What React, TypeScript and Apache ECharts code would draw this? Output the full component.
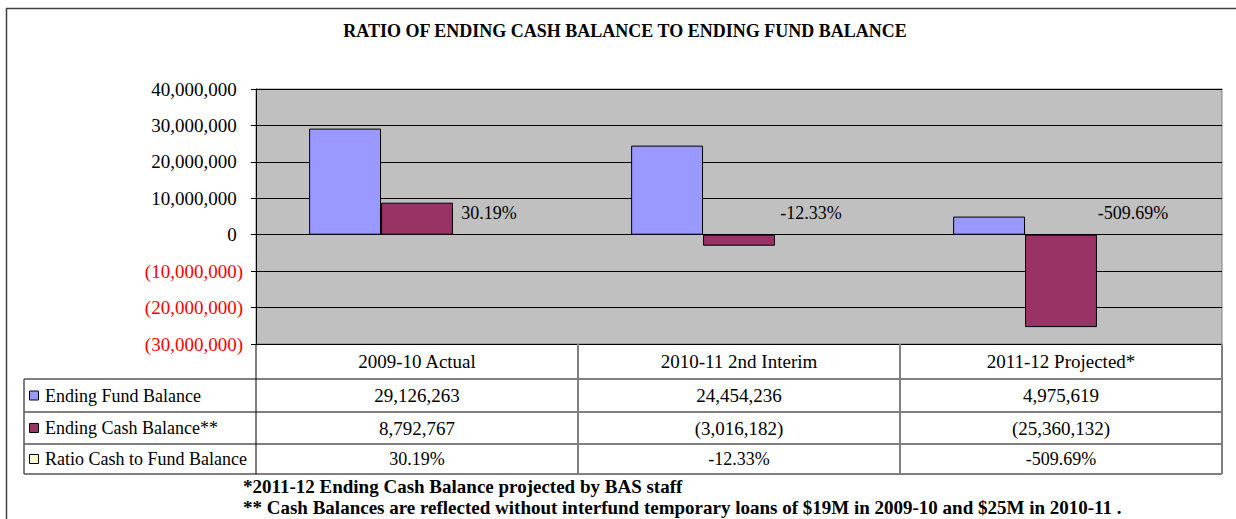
import React, { useEffect, useRef } from "react";
import * as echarts from "echarts";

const categories = ["2009-10 Actual", "2010-11 2nd Interim", "2011-12 Projected*"];
const seriesNames = ["Ending Fund Balance", "Ending Cash Balance**", "Ratio Cash to Fund Balance"];
const fundBalance = [29126263, 24454236, 4975619];
const cashBalance = [8792767, -3016182, -25360132];
const ratioPct = [30.19, -12.33, -509.69];
const yMin = -30000000;
const yMax = 40000000;
const yInterval = 10000000;
const titleText = "RATIO OF ENDING CASH BALANCE TO ENDING FUND BALANCE";
const footnotes = [
  "*2011-12 Ending Cash Balance projected by BAS staff",
  "** Cash Balances are reflected without interfund temporary loans of $19M in 2009-10 and $25M in 2010-11 .",
];
const colors = ["#9999ff", "#993366", "#ffffcc"];

const FONT = "Liberation Serif";

const fmtMoney = (n: number) =>
  n < 0 ? `(${Math.abs(n).toLocaleString("en-US")})` : n.toLocaleString("en-US");
const fmtPct = (n: number) => `${n.toFixed(2)}%`;

export default function App() {
  const ref = useRef<HTMLDivElement>(null);
  useEffect(() => {
    document.body.style.margin = "0";
    const chart = echarts.init(ref.current!, null, { renderer: "svg" });
    const gridLeft = 256;
    const gridTop = 89;
    const gridRight = 14;
    const gridBottom = 175;
    chart.setOption({
      animation: false,
      backgroundColor: "#ffffff",
      textStyle: { fontFamily: FONT },
      grid: {
        left: gridLeft,
        top: gridTop,
        right: gridRight,
        bottom: gridBottom,
        show: true,
        backgroundColor: "#c0c0c0",
        borderColor: "#808080",
        borderWidth: 1,
      },
      xAxis: {
        type: "category",
        data: categories,
        boundaryGap: true,
        axisLine: { show: true, lineStyle: { color: "#000", width: 1 } },
        axisTick: { show: false },
        axisLabel: {
          fontFamily: FONT,
          fontSize: 19,
          color: "#000",
          margin: 8,
        },
      },
      yAxis: {
        type: "value",
        min: yMin,
        max: yMax,
        interval: yInterval,
        axisLine: { show: true, lineStyle: { color: "#000", width: 1 } },
        axisTick: { show: true, length: 5, lineStyle: { color: "#000" } },
        splitLine: { show: true, lineStyle: { color: "#000", width: 1 } },
        axisLabel: {
          margin: 13,
          fontFamily: FONT,
          fontSize: 19,
          formatter: (v: number) =>
            v < 0 ? `{r|${fmtMoney(v)}}` : `{n|${fmtMoney(v)}}{s|)}`,
          rich: {
            n: { fontFamily: FONT, fontSize: 19, color: "#000" },
            r: { fontFamily: FONT, fontSize: 19, color: "#ff0000" },
            s: { fontFamily: FONT, fontSize: 19, color: "rgba(0,0,0,0)" },
          },
        },
      },
      series: [
        {
          name: seriesNames[0],
          type: "bar",
          data: fundBalance,
          barGap: "0%",
          barCategoryGap: "33%",
          itemStyle: { color: colors[0], borderColor: "#000", borderWidth: 1 },
        },
        {
          name: seriesNames[1],
          type: "bar",
          data: cashBalance,
          itemStyle: { color: colors[1], borderColor: "#000", borderWidth: 1 },
        },
        {
          name: seriesNames[2],
          type: "bar",
          data: ratioPct,
          itemStyle: { color: "rgba(0,0,0,0)", borderWidth: 0 },
          label: {
            show: true,
            position: "top",
            distance: 13,
            formatter: (p: any) => fmtPct(p.value),
            fontFamily: FONT,
            fontSize: 18,
            color: "#000",
          },
        },
      ],
    });

    const centers = categories.map((_, i) => chart.convertToPixel({ xAxisIndex: 0 }, i) as number);
    const band = centers.length > 1 ? centers[1] - centers[0] : 300;
    const bounds = [centers[0] - band / 2, ...centers.map((c) => c + band / 2)];
    const yBottom = chart.convertToPixel({ yAxisIndex: 0 }, yMin) as number;
    const tableLeft = 24;
    const rowTops = [yBottom + 35, yBottom + 68, yBottom + 100];
    const tableBottom = yBottom + 130;
    const rowH = [33, 32, 30];
    const tableRight = bounds[bounds.length - 1];

    const rowsData = [fundBalance.map(fmtMoney), cashBalance.map(fmtMoney), ratioPct.map(fmtPct)];
    const rowSizes = [19, 19, 18];

    const g: any[] = [];
    g.push({
      type: "rect",
      shape: { x: 6.5, y: 8.5, width: 1260, height: 540 },
      style: { fill: "none", stroke: "#404040", lineWidth: 1.5 },
      silent: true,
    });
    g.push({
      type: "text",
      x: 625,
      y: 31,
      style: {
        text: titleText,
        fontFamily: FONT,
        fontWeight: "bold",
        fontSize: 18,
        fill: "#000",
        align: "center",
        verticalAlign: "middle",
      },
    });
    const hLine = (y: number, x1: number, x2: number, color: string, w = 1) =>
      g.push({
        type: "line",
        shape: { x1, y1: y, x2, y2: y },
        style: { stroke: color, lineWidth: w },
        silent: true,
      });
    const vLine = (x: number, y1: number, y2: number, color: string, w = 1) =>
      g.push({
        type: "line",
        shape: { x1: x, y1, x2: x, y2 },
        style: { stroke: color, lineWidth: w },
        silent: true,
      });
    hLine(rowTops[0], tableLeft, tableRight, "#000", 1);
    hLine(rowTops[1], tableLeft, tableRight, "#000", 1);
    hLine(rowTops[2], tableLeft, tableRight, "#000", 1);
    hLine(tableBottom, tableLeft, tableRight, "#555", 1.5);
    vLine(tableLeft, rowTops[0], tableBottom, "#555", 1.5);
    vLine(bounds[0], yBottom, tableBottom, "#000", 1);
    for (let i = 1; i < bounds.length - 1; i++) vLine(bounds[i], yBottom, tableBottom, "#808080", 2);
    vLine(tableRight, yBottom, tableBottom, "#808080", 2);

    rowsData.forEach((row, r) => {
      const cy = rowTops[r] + rowH[r] / 2;
      g.push({
        type: "rect",
        shape: { x: 29.5, y: cy - 4.5, width: 9, height: 9 },
        style: { fill: colors[r], stroke: "#000", lineWidth: 1 },
        silent: true,
      });
      g.push({
        type: "text",
        x: 45,
        y: cy,
        style: {
          text: seriesNames[r],
          fontFamily: FONT,
          fontSize: 18,
          fill: "#000",
          align: "left",
          verticalAlign: "middle",
        },
      });
      row.forEach((t, i) => {
        g.push({
          type: "text",
          x: centers[i],
          y: cy,
          style: {
            text: t,
            fontFamily: FONT,
            fontSize: rowSizes[r],
            fill: "#000",
            align: "center",
            verticalAlign: "middle",
          },
        });
      });
    });
    footnotes.forEach((t, i) => {
      g.push({
        type: "text",
        x: 243,
        y: tableBottom + 12 + i * 21,
        style: {
          text: t,
          fontFamily: FONT,
          fontWeight: "bold",
          fontSize: 19,
          fill: "#000",
          align: "left",
          verticalAlign: "middle",
        },
      });
    });
    chart.setOption({ graphic: g });

    return () => chart.dispose();
  }, []);
  return (
    <div
      ref={ref}
      style={{ position: "fixed", left: 0, top: 0, width: 1236, height: 519 }}
    />
  );
}
